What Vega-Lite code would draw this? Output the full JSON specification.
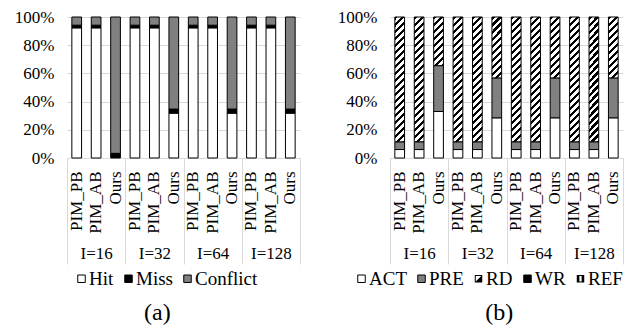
{
  "$schema": "https://vega.github.io/schema/vega-lite/v6.json",
  "padding": {"left": 14, "top": 8, "right": 0, "bottom": 0},
  "spacing": 36,
  "resolve": {"scale": {"fill": "independent"}, "legend": {"fill": "independent"}},
  "config": {
    "font": "Liberation Serif",
    "view": {"stroke": null},
    "axis": {"labelFont": "Liberation Serif", "labelFontSize": 17, "labelColor": "#000", "gridColor": "#d9d9d9", "domainColor": "#d9d9d9", "labelOverlap": false},
    "legend": {"orient": "bottom", "direction": "horizontal", "symbolType": "square", "symbolSize": 56, "symbolStrokeColor": "#000", "symbolStrokeWidth": 1, "labelFont": "Liberation Serif", "labelFontSize": 19, "labelColor": "#000", "columnPadding": 5, "labelOffset": -2, "offset": 4,
               "titleOrient": "right", "titlePadding": 38, "titleFontSize": 6,
               "layout": {"bottom": {"anchor": "middle", "bounds": "full"}}},
    "title": {"font": "Liberation Serif", "fontSize": 24, "fontWeight": "normal", "color": "#000"}
  },
  "datasets": {
    "cache": [
      {"group": "I=16", "method": "PIM_PB", "bar": "PIM_PB|16", "cat": "Hit", "value": 92.3},
      {"group": "I=16", "method": "PIM_PB", "bar": "PIM_PB|16", "cat": "Miss", "value": 1.9},
      {"group": "I=16", "method": "PIM_PB", "bar": "PIM_PB|16", "cat": "Conflict", "value": 5.8},
      {"group": "I=16", "method": "PIM_AB", "bar": "PIM_AB|16", "cat": "Hit", "value": 92.3},
      {"group": "I=16", "method": "PIM_AB", "bar": "PIM_AB|16", "cat": "Miss", "value": 1.9},
      {"group": "I=16", "method": "PIM_AB", "bar": "PIM_AB|16", "cat": "Conflict", "value": 5.8},
      {"group": "I=16", "method": "Ours", "bar": "Ours|16", "cat": "Hit", "value": 0.5},
      {"group": "I=16", "method": "Ours", "bar": "Ours|16", "cat": "Miss", "value": 2.8},
      {"group": "I=16", "method": "Ours", "bar": "Ours|16", "cat": "Conflict", "value": 96.7},
      {"group": "I=32", "method": "PIM_PB", "bar": "PIM_PB|32", "cat": "Hit", "value": 92.3},
      {"group": "I=32", "method": "PIM_PB", "bar": "PIM_PB|32", "cat": "Miss", "value": 1.9},
      {"group": "I=32", "method": "PIM_PB", "bar": "PIM_PB|32", "cat": "Conflict", "value": 5.8},
      {"group": "I=32", "method": "PIM_AB", "bar": "PIM_AB|32", "cat": "Hit", "value": 92.3},
      {"group": "I=32", "method": "PIM_AB", "bar": "PIM_AB|32", "cat": "Miss", "value": 1.9},
      {"group": "I=32", "method": "PIM_AB", "bar": "PIM_AB|32", "cat": "Conflict", "value": 5.8},
      {"group": "I=32", "method": "Ours", "bar": "Ours|32", "cat": "Hit", "value": 31.8},
      {"group": "I=32", "method": "Ours", "bar": "Ours|32", "cat": "Miss", "value": 2.9},
      {"group": "I=32", "method": "Ours", "bar": "Ours|32", "cat": "Conflict", "value": 65.3},
      {"group": "I=64", "method": "PIM_PB", "bar": "PIM_PB|64", "cat": "Hit", "value": 92.3},
      {"group": "I=64", "method": "PIM_PB", "bar": "PIM_PB|64", "cat": "Miss", "value": 1.9},
      {"group": "I=64", "method": "PIM_PB", "bar": "PIM_PB|64", "cat": "Conflict", "value": 5.8},
      {"group": "I=64", "method": "PIM_AB", "bar": "PIM_AB|64", "cat": "Hit", "value": 92.3},
      {"group": "I=64", "method": "PIM_AB", "bar": "PIM_AB|64", "cat": "Miss", "value": 1.9},
      {"group": "I=64", "method": "PIM_AB", "bar": "PIM_AB|64", "cat": "Conflict", "value": 5.8},
      {"group": "I=64", "method": "Ours", "bar": "Ours|64", "cat": "Hit", "value": 31.8},
      {"group": "I=64", "method": "Ours", "bar": "Ours|64", "cat": "Miss", "value": 2.9},
      {"group": "I=64", "method": "Ours", "bar": "Ours|64", "cat": "Conflict", "value": 65.3},
      {"group": "I=128", "method": "PIM_PB", "bar": "PIM_PB|128", "cat": "Hit", "value": 92.3},
      {"group": "I=128", "method": "PIM_PB", "bar": "PIM_PB|128", "cat": "Miss", "value": 1.9},
      {"group": "I=128", "method": "PIM_PB", "bar": "PIM_PB|128", "cat": "Conflict", "value": 5.8},
      {"group": "I=128", "method": "PIM_AB", "bar": "PIM_AB|128", "cat": "Hit", "value": 92.3},
      {"group": "I=128", "method": "PIM_AB", "bar": "PIM_AB|128", "cat": "Miss", "value": 1.9},
      {"group": "I=128", "method": "PIM_AB", "bar": "PIM_AB|128", "cat": "Conflict", "value": 5.8},
      {"group": "I=128", "method": "Ours", "bar": "Ours|128", "cat": "Hit", "value": 31.8},
      {"group": "I=128", "method": "Ours", "bar": "Ours|128", "cat": "Miss", "value": 2.9},
      {"group": "I=128", "method": "Ours", "bar": "Ours|128", "cat": "Conflict", "value": 65.3}
    ],
    "cmd": [
      {"group": "I=16", "method": "PIM_PB", "bar": "PIM_PB|16", "cat": "ACT", "value": 6},
      {"group": "I=16", "method": "PIM_PB", "bar": "PIM_PB|16", "cat": "PRE", "value": 5.5},
      {"group": "I=16", "method": "PIM_PB", "bar": "PIM_PB|16", "cat": "RD", "value": 88.5},
      {"group": "I=16", "method": "PIM_AB", "bar": "PIM_AB|16", "cat": "ACT", "value": 6},
      {"group": "I=16", "method": "PIM_AB", "bar": "PIM_AB|16", "cat": "PRE", "value": 5.5},
      {"group": "I=16", "method": "PIM_AB", "bar": "PIM_AB|16", "cat": "RD", "value": 88.5},
      {"group": "I=16", "method": "Ours", "bar": "Ours|16", "cat": "ACT", "value": 33},
      {"group": "I=16", "method": "Ours", "bar": "Ours|16", "cat": "PRE", "value": 32.5},
      {"group": "I=16", "method": "Ours", "bar": "Ours|16", "cat": "RD", "value": 34.5},
      {"group": "I=32", "method": "PIM_PB", "bar": "PIM_PB|32", "cat": "ACT", "value": 6},
      {"group": "I=32", "method": "PIM_PB", "bar": "PIM_PB|32", "cat": "PRE", "value": 5.5},
      {"group": "I=32", "method": "PIM_PB", "bar": "PIM_PB|32", "cat": "RD", "value": 88.5},
      {"group": "I=32", "method": "PIM_AB", "bar": "PIM_AB|32", "cat": "ACT", "value": 6},
      {"group": "I=32", "method": "PIM_AB", "bar": "PIM_AB|32", "cat": "PRE", "value": 5.5},
      {"group": "I=32", "method": "PIM_AB", "bar": "PIM_AB|32", "cat": "RD", "value": 88.5},
      {"group": "I=32", "method": "Ours", "bar": "Ours|32", "cat": "ACT", "value": 28.5},
      {"group": "I=32", "method": "Ours", "bar": "Ours|32", "cat": "PRE", "value": 28.3},
      {"group": "I=32", "method": "Ours", "bar": "Ours|32", "cat": "RD", "value": 43.2},
      {"group": "I=64", "method": "PIM_PB", "bar": "PIM_PB|64", "cat": "ACT", "value": 6},
      {"group": "I=64", "method": "PIM_PB", "bar": "PIM_PB|64", "cat": "PRE", "value": 5.5},
      {"group": "I=64", "method": "PIM_PB", "bar": "PIM_PB|64", "cat": "RD", "value": 88.5},
      {"group": "I=64", "method": "PIM_AB", "bar": "PIM_AB|64", "cat": "ACT", "value": 6},
      {"group": "I=64", "method": "PIM_AB", "bar": "PIM_AB|64", "cat": "PRE", "value": 5.5},
      {"group": "I=64", "method": "PIM_AB", "bar": "PIM_AB|64", "cat": "RD", "value": 88.5},
      {"group": "I=64", "method": "Ours", "bar": "Ours|64", "cat": "ACT", "value": 28.5},
      {"group": "I=64", "method": "Ours", "bar": "Ours|64", "cat": "PRE", "value": 28.3},
      {"group": "I=64", "method": "Ours", "bar": "Ours|64", "cat": "RD", "value": 43.2},
      {"group": "I=128", "method": "PIM_PB", "bar": "PIM_PB|128", "cat": "ACT", "value": 6},
      {"group": "I=128", "method": "PIM_PB", "bar": "PIM_PB|128", "cat": "PRE", "value": 5.5},
      {"group": "I=128", "method": "PIM_PB", "bar": "PIM_PB|128", "cat": "RD", "value": 88.5},
      {"group": "I=128", "method": "PIM_AB", "bar": "PIM_AB|128", "cat": "ACT", "value": 6},
      {"group": "I=128", "method": "PIM_AB", "bar": "PIM_AB|128", "cat": "PRE", "value": 5.5},
      {"group": "I=128", "method": "PIM_AB", "bar": "PIM_AB|128", "cat": "RD", "value": 88.5},
      {"group": "I=128", "method": "Ours", "bar": "Ours|128", "cat": "ACT", "value": 28.5},
      {"group": "I=128", "method": "Ours", "bar": "Ours|128", "cat": "PRE", "value": 28.3},
      {"group": "I=128", "method": "Ours", "bar": "Ours|128", "cat": "RD", "value": 43.2}
    ]
  },
  "hconcat": [
    {
      "title": {"text": "(a)", "orient": "bottom", "anchor": "middle", "frame": "bounds", "offset": 12},
      "width": 233,
      "height": 141,
      "data": {"name": "cache"},
      "transform": [{"calculate": "indexof(['Hit', 'Miss', 'Conflict'], datum.cat)", "as": "k"}],
      "layer": [
        {
          "mark": {"type": "bar", "stroke": "#000", "strokeWidth": 1},
          "encoding": {
            "x": {"field": "bar", "type": "nominal", "sort": null, "scale": {"paddingInner": 0.5, "paddingOuter": 0.25},
                  "axis": {"orient": "bottom", "title": null, "labelAngle": -90, "labelExpr": "slice(datum.label, 0, indexof(datum.label, '|'))", "ticks": false, "labelPadding": 13, "grid": false}},
            "y": {"field": "value", "type": "quantitative", "stack": "normalize", "scale": {"domain": [0, 1], "nice": false},
                  "axis": {"title": null, "format": ".0%", "values": [0, 0.2, 0.4, 0.6, 0.8, 1], "labelOverlap": false, "ticks": false, "domain": false, "labelPadding": 13}},
            "order": {"field": "k", "type": "quantitative", "sort": "ascending"},
            "fill": {"field": "cat", "type": "nominal", "sort": ["Hit", "Miss", "Conflict"],
                     "scale": {"domain": ["Hit", "Miss", "Conflict"], "range": ["#ffffff", "#000000", "#808080"]},
                     "legend": {"title": " "}}
          }
        },
        {
          "mark": {"type": "point", "opacity": 0},
          "encoding": {
            "x": {"field": "group", "type": "nominal", "sort": null, "scale": {"type": "band", "paddingInner": 0, "paddingOuter": 0},
                  "axis": {"orient": "bottom", "title": null, "labelAngle": 0, "tickBand": "extent", "tickSize": 106, "tickColor": "#d9d9d9", "domain": false, "labelPadding": -19, "grid": false}}
          }
        }
      ],
      "resolve": {"scale": {"x": "independent"}, "axis": {"x": "independent"}}
    },
    {
      "title": {"text": "(b)", "orient": "bottom", "anchor": "middle", "frame": "bounds", "offset": 12},
      "width": 233,
      "height": 141,
      "data": {"name": "cmd"},
      "transform": [{"calculate": "indexof(['ACT', 'PRE', 'RD', 'WR', 'REF'], datum.cat)", "as": "k"}],
      "layer": [
        {
          "mark": {"type": "bar", "stroke": "#000", "strokeWidth": 1},
          "encoding": {
            "x": {"field": "bar", "type": "nominal", "sort": null, "scale": {"paddingInner": 0.5, "paddingOuter": 0.25},
                  "axis": {"orient": "bottom", "title": null, "labelAngle": -90, "labelExpr": "slice(datum.label, 0, indexof(datum.label, '|'))", "ticks": false, "labelPadding": 13, "grid": false}},
            "y": {"field": "value", "type": "quantitative", "stack": "normalize", "scale": {"domain": [0, 1], "nice": false},
                  "axis": {"title": null, "format": ".0%", "values": [0, 0.2, 0.4, 0.6, 0.8, 1], "labelOverlap": false, "ticks": false, "domain": false, "labelPadding": 13}},
            "order": {"field": "k", "type": "quantitative", "sort": "ascending"},
            "fill": {
              "condition": [
                {"test": "datum.cat === 'RD' && datum.method !== 'Ours'", "value": {"gradient": "linear", "x1": 0, "y1": 0, "x2": 0.0871, "y2": 1.115, "stops": [
{"offset":0,"color":"#000"},{"offset":0.0225,"color":"#000"},{"offset":0.0225,"color":"#fff"},{"offset":0.05,"color":"#fff"},
{"offset":0.05,"color":"#000"},{"offset":0.0725,"color":"#000"},{"offset":0.0725,"color":"#fff"},{"offset":0.1,"color":"#fff"},
{"offset":0.1,"color":"#000"},{"offset":0.1225,"color":"#000"},{"offset":0.1225,"color":"#fff"},{"offset":0.15,"color":"#fff"},
{"offset":0.15,"color":"#000"},{"offset":0.1725,"color":"#000"},{"offset":0.1725,"color":"#fff"},{"offset":0.2,"color":"#fff"},
{"offset":0.2,"color":"#000"},{"offset":0.2225,"color":"#000"},{"offset":0.2225,"color":"#fff"},{"offset":0.25,"color":"#fff"},
{"offset":0.25,"color":"#000"},{"offset":0.2725,"color":"#000"},{"offset":0.2725,"color":"#fff"},{"offset":0.3,"color":"#fff"},
{"offset":0.3,"color":"#000"},{"offset":0.3225,"color":"#000"},{"offset":0.3225,"color":"#fff"},{"offset":0.35,"color":"#fff"},
{"offset":0.35,"color":"#000"},{"offset":0.3725,"color":"#000"},{"offset":0.3725,"color":"#fff"},{"offset":0.4,"color":"#fff"},
{"offset":0.4,"color":"#000"},{"offset":0.4225,"color":"#000"},{"offset":0.4225,"color":"#fff"},{"offset":0.45,"color":"#fff"},
{"offset":0.45,"color":"#000"},{"offset":0.4725,"color":"#000"},{"offset":0.4725,"color":"#fff"},{"offset":0.5,"color":"#fff"},
{"offset":0.5,"color":"#000"},{"offset":0.5225,"color":"#000"},{"offset":0.5225,"color":"#fff"},{"offset":0.55,"color":"#fff"},
{"offset":0.55,"color":"#000"},{"offset":0.5725,"color":"#000"},{"offset":0.5725,"color":"#fff"},{"offset":0.6,"color":"#fff"},
{"offset":0.6,"color":"#000"},{"offset":0.6225,"color":"#000"},{"offset":0.6225,"color":"#fff"},{"offset":0.65,"color":"#fff"},
{"offset":0.65,"color":"#000"},{"offset":0.6725,"color":"#000"},{"offset":0.6725,"color":"#fff"},{"offset":0.7,"color":"#fff"},
{"offset":0.7,"color":"#000"},{"offset":0.7225,"color":"#000"},{"offset":0.7225,"color":"#fff"},{"offset":0.75,"color":"#fff"},
{"offset":0.75,"color":"#000"},{"offset":0.7725,"color":"#000"},{"offset":0.7725,"color":"#fff"},{"offset":0.8,"color":"#fff"},
{"offset":0.8,"color":"#000"},{"offset":0.8225,"color":"#000"},{"offset":0.8225,"color":"#fff"},{"offset":0.85,"color":"#fff"},
{"offset":0.85,"color":"#000"},{"offset":0.8725,"color":"#000"},{"offset":0.8725,"color":"#fff"},{"offset":0.9,"color":"#fff"},
{"offset":0.9,"color":"#000"},{"offset":0.9225,"color":"#000"},{"offset":0.9225,"color":"#fff"},{"offset":0.95,"color":"#fff"},
{"offset":0.95,"color":"#000"},{"offset":0.9725,"color":"#000"},{"offset":0.9725,"color":"#fff"},{"offset":1,"color":"#fff"}]}},
                {"test": "datum.cat === 'RD' && datum.group === 'I=16'", "value": {"gradient": "linear", "x1": 0, "y1": 0, "x2": 0.5556, "y2": 2.769, "stops": [
{"offset":0,"color":"#000"},{"offset":0.0225,"color":"#000"},{"offset":0.0225,"color":"#fff"},{"offset":0.05,"color":"#fff"},
{"offset":0.05,"color":"#000"},{"offset":0.0725,"color":"#000"},{"offset":0.0725,"color":"#fff"},{"offset":0.1,"color":"#fff"},
{"offset":0.1,"color":"#000"},{"offset":0.1225,"color":"#000"},{"offset":0.1225,"color":"#fff"},{"offset":0.15,"color":"#fff"},
{"offset":0.15,"color":"#000"},{"offset":0.1725,"color":"#000"},{"offset":0.1725,"color":"#fff"},{"offset":0.2,"color":"#fff"},
{"offset":0.2,"color":"#000"},{"offset":0.2225,"color":"#000"},{"offset":0.2225,"color":"#fff"},{"offset":0.25,"color":"#fff"},
{"offset":0.25,"color":"#000"},{"offset":0.2725,"color":"#000"},{"offset":0.2725,"color":"#fff"},{"offset":0.3,"color":"#fff"},
{"offset":0.3,"color":"#000"},{"offset":0.3225,"color":"#000"},{"offset":0.3225,"color":"#fff"},{"offset":0.35,"color":"#fff"},
{"offset":0.35,"color":"#000"},{"offset":0.3725,"color":"#000"},{"offset":0.3725,"color":"#fff"},{"offset":0.4,"color":"#fff"},
{"offset":0.4,"color":"#000"},{"offset":0.4225,"color":"#000"},{"offset":0.4225,"color":"#fff"},{"offset":0.45,"color":"#fff"},
{"offset":0.45,"color":"#000"},{"offset":0.4725,"color":"#000"},{"offset":0.4725,"color":"#fff"},{"offset":0.5,"color":"#fff"},
{"offset":0.5,"color":"#000"},{"offset":0.5225,"color":"#000"},{"offset":0.5225,"color":"#fff"},{"offset":0.55,"color":"#fff"}]}},
                {"test": "datum.cat === 'RD'", "value": {"gradient": "linear", "x1": 0, "y1": 0, "x2": 0.3623, "y2": 2.252, "stops": [
{"offset":0,"color":"#000"},{"offset":0.0225,"color":"#000"},{"offset":0.0225,"color":"#fff"},{"offset":0.05,"color":"#fff"},
{"offset":0.05,"color":"#000"},{"offset":0.0725,"color":"#000"},{"offset":0.0725,"color":"#fff"},{"offset":0.1,"color":"#fff"},
{"offset":0.1,"color":"#000"},{"offset":0.1225,"color":"#000"},{"offset":0.1225,"color":"#fff"},{"offset":0.15,"color":"#fff"},
{"offset":0.15,"color":"#000"},{"offset":0.1725,"color":"#000"},{"offset":0.1725,"color":"#fff"},{"offset":0.2,"color":"#fff"},
{"offset":0.2,"color":"#000"},{"offset":0.2225,"color":"#000"},{"offset":0.2225,"color":"#fff"},{"offset":0.25,"color":"#fff"},
{"offset":0.25,"color":"#000"},{"offset":0.2725,"color":"#000"},{"offset":0.2725,"color":"#fff"},{"offset":0.3,"color":"#fff"},
{"offset":0.3,"color":"#000"},{"offset":0.3225,"color":"#000"},{"offset":0.3225,"color":"#fff"},{"offset":0.35,"color":"#fff"},
{"offset":0.35,"color":"#000"},{"offset":0.3725,"color":"#000"},{"offset":0.3725,"color":"#fff"},{"offset":0.4,"color":"#fff"},
{"offset":0.4,"color":"#000"},{"offset":0.4225,"color":"#000"},{"offset":0.4225,"color":"#fff"},{"offset":0.45,"color":"#fff"},
{"offset":0.45,"color":"#000"},{"offset":0.4725,"color":"#000"},{"offset":0.4725,"color":"#fff"},{"offset":0.5,"color":"#fff"},
{"offset":0.5,"color":"#000"},{"offset":0.5225,"color":"#000"},{"offset":0.5225,"color":"#fff"},{"offset":0.55,"color":"#fff"},
{"offset":0.55,"color":"#000"},{"offset":0.5725,"color":"#000"},{"offset":0.5725,"color":"#fff"},{"offset":0.6,"color":"#fff"}]}}
              ],
              "field": "cat", "type": "nominal", "sort": ["ACT", "PRE", "RD", "WR", "REF"],
              "scale": {"domain": ["ACT", "PRE", "RD", "WR", "REF"], "range": ["#ffffff", "#808080", "#000000", "#000000", "#000000"]},
              "legend": {"title": " ", "encode": {"symbols": {"update": {
                "shape": {"signal": "datum.value === 'RD' ? 'M-1,-1H1V1H-1Z M-0.73,-0.73V0.73H0.73V-0.73Z M0.73,-0.73L0.73,0.73L-0.73,0.73Z' : datum.value === 'REF' ? 'M-1,-1H-0.3V1H-1Z M0.3,-1H1V1H0.3Z M-0.3,-1H0.3V-0.73H-0.3Z M-0.3,0.73H0.3V1H-0.3Z' : 'square'"},
                "strokeWidth": {"signal": "datum.value === 'RD' || datum.value === 'REF' ? 0 : 1"}
              }}}}
            }
          }
        },
        {
          "mark": {"type": "point", "opacity": 0},
          "encoding": {
            "x": {"field": "group", "type": "nominal", "sort": null, "scale": {"type": "band", "paddingInner": 0, "paddingOuter": 0},
                  "axis": {"orient": "bottom", "title": null, "labelAngle": 0, "tickBand": "extent", "tickSize": 106, "tickColor": "#d9d9d9", "domain": false, "labelPadding": -19, "grid": false}}
          }
        }
      ],
      "resolve": {"scale": {"x": "independent"}, "axis": {"x": "independent"}}
    }
  ]
}
